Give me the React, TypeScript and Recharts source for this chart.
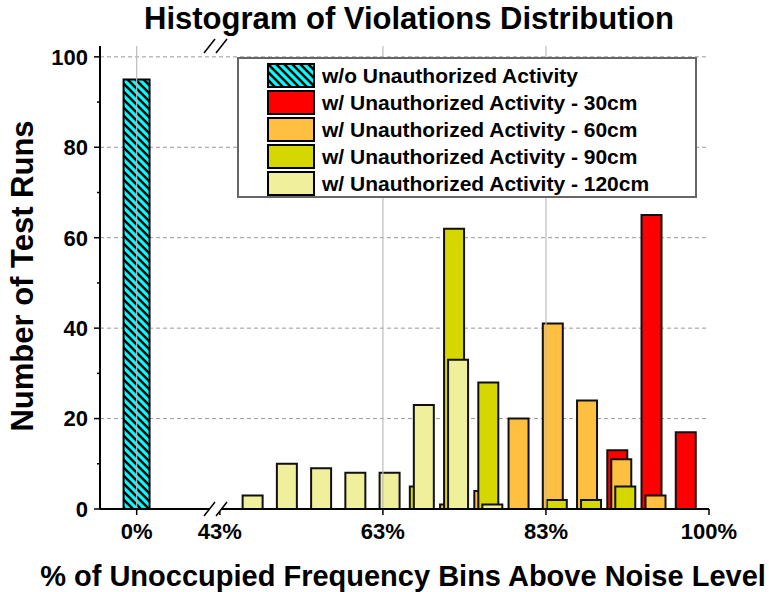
import React from 'react';
import { ComposedChart, Bar, XAxis, YAxis, CartesianGrid, ReferenceLine, Legend } from 'recharts';

// bin centres (% of unoccupied bins above noise), one group of bars per bin
const bins = [46.3, 50.5, 54.7, 58.9, 63.1, 67.3, 71.5, 75.7, 79.9, 84.1, 88.3, 92.5, 96.7, 100.9];

// test runs per bin
const noActivity = 95; // all runs land in the 0% bin
const cm30 = [null, null, null, null, null, null, null, null, null, null, null, 13, 65, 17];
const cm60 = [null, null, null, null, null, null, 1, 4, 20, 41, 24, 11, 3, null];
const cm90 = [null, null, null, null, null, 5, 62, 28, null, 2, 2, 5, null, null];
const cm120 = [3, 10, 9, 8, 8, 23, 33, 1, null, null, null, null, null, null];

const xTickValues = [0, 43, 63, 83, 100];
const yTickValues = [0, 10, 20, 30, 40, 50, 60, 70, 80, 90, 100];

// the x axis is broken between 0% and 43%; 0% is drawn just left of the break
// and the right frame carries the 100% label
const ZERO_AT = 32.8;
const AXIS_START = 28.3;
const AXIS_END = 103;
const toAxis = (p: number) => (p === 0 ? ZERO_AT : p === 100 ? AXIS_END : p);

const Y_MAX = 102.4;
const FONT = '"Liberation Sans", Arial, Helvetica, sans-serif';

const series = [
  { key: 'none', name: 'w/o Unauthorized Activity', fill: 'url(#hatch)' },
  { key: 'cm30', name: 'w/ Unauthorized Activity - 30cm', fill: '#ff0000' },
  { key: 'cm60', name: 'w/ Unauthorized Activity - 60cm', fill: '#ffbf40' },
  { key: 'cm90', name: 'w/ Unauthorized Activity - 90cm', fill: '#d6d600' },
  { key: 'cm120', name: 'w/ Unauthorized Activity - 120cm', fill: '#efef9c' },
];

const data = [
  { x: toAxis(0), none: noActivity },
  ...bins.map((b, i) => ({ x: toAxis(b), cm30: cm30[i], cm60: cm60[i], cm90: cm90[i], cm120: cm120[i] })),
];

const labelStyle = { fontFamily: FONT, fontWeight: 700, fill: '#000' };

const YTick = (props: any) => {
  const { x, y, payload } = props;
  const axisX = x + 12;
  const major = payload.value % 20 === 0;
  return (
    <g>
      <line x1={axisX - (major ? 6 : 3)} x2={axisX} y1={y} y2={y} stroke="#000" strokeWidth={1.5} />
      {major && (
        <text x={x} y={y} dy="0.36em" textAnchor="end" fontSize={22} style={labelStyle}>
          {payload.value}
        </text>
      )}
    </g>
  );
};

const renderLegend = () => (
  <div
    style={{
      background: '#fff',
      border: '2px solid #666',
      boxSizing: 'border-box',
      width: 460,
      height: 141,
      padding: '3px 0 0 28px',
    }}
  >
    {series.map((s) => (
      <div key={s.key} style={{ display: 'flex', alignItems: 'center', height: 27 }}>
        <svg width={48} height={25}>
          <rect x={1} y={1} width={46} height={23} fill={s.fill} stroke="#000" strokeWidth={2} />
        </svg>
        <span style={{ marginLeft: 7, fontFamily: FONT, fontWeight: 700, fontSize: 21, color: '#000', whiteSpace: 'nowrap' }}>
          {s.name}
        </span>
      </div>
    ))}
  </div>
);

// "//" marks where the frame is broken
const AxisBreak = ({ y }: { y: number }) => (
  <g>
    <rect x={210} y={y - 2.5} width={11} height={5} fill="#fff" />
    <line x1={204} y1={y + 7} x2={215} y2={y - 7} stroke="#000" strokeWidth={1.5} />
    <line x1={216} y1={y + 7} x2={227} y2={y - 7} stroke="#000" strokeWidth={1.5} />
  </g>
);

const App = () => {
  return (
    <div style={{ position: 'absolute', left: 0, top: 0, width: 769, height: 592, background: '#fff' }}>
      <svg width={0} height={0} style={{ position: 'absolute' }}>
        <defs>
          <pattern id="hatch" patternUnits="userSpaceOnUse" width={8} height={8}>
            <rect width={8} height={8} fill="#00ffff" />
            <path d="M0,0 L8,8 M-2,6 L2,10 M6,-2 L10,2" stroke="#000" strokeWidth={2.6} />
          </pattern>
        </defs>
      </svg>

      <ComposedChart
        width={769}
        height={592}
        data={data}
        margin={{ top: 46, right: 60, bottom: 43, left: 30 }}
        barGap={-16}
      >
        <CartesianGrid vertical={false} horizontalValues={[20, 40, 60, 80, 100]} stroke="#999" strokeDasharray="4 3" />
        {[0, 63, 83].map((v) => (
          <ReferenceLine key={v} x={toAxis(v)} stroke="#bdbdbd" strokeWidth={1.2} />
        ))}

        <XAxis
          dataKey="x"
          type="number"
          domain={[AXIS_START, AXIS_END]}
          allowDataOverflow
          ticks={xTickValues.map(toAxis)}
          tickFormatter={(v: number) => `${xTickValues[xTickValues.map(toAxis).indexOf(v)]}%`}
          height={40}
          tickSize={6}
          tickMargin={8}
          tick={{ fontSize: 22, ...labelStyle }}
          axisLine={{ stroke: '#000', strokeWidth: 2 }}
          tickLine={{ stroke: '#000', strokeWidth: 1.5 }}
        />
        <XAxis
          xAxisId="top"
          orientation="top"
          dataKey="x"
          type="number"
          domain={[AXIS_START, AXIS_END]}
          allowDataOverflow
          height={0}
          tick={false}
          tickLine={false}
          axisLine={{ stroke: '#000', strokeWidth: 2 }}
        />
        <XAxis xAxisId="zero" dataKey="x" type="number" domain={[AXIS_START, AXIS_END]} allowDataOverflow hide />

        <YAxis
          type="number"
          domain={[0, Y_MAX]}
          allowDataOverflow
          ticks={yTickValues}
          width={70}
          tickSize={6}
          tickMargin={6}
          tickLine={false}
          tick={<YTick />}
          axisLine={{ stroke: '#000', strokeWidth: 2 }}
        />
        <YAxis
          yAxisId="right"
          orientation="right"
          type="number"
          domain={[0, Y_MAX]}
          allowDataOverflow
          ticks={yTickValues}
          width={0}
          mirror
          tickSize={4}
          tick={false}
          tickLine={{ stroke: '#000', strokeWidth: 1.5 }}
          axisLine={{ stroke: '#000', strokeWidth: 2 }}
        />

        <Bar xAxisId="zero" dataKey="none" name={series[0].name} fill={series[0].fill} stroke="#000" strokeWidth={2} barSize={26} isAnimationActive={false} />
        {series.slice(1).map((s) => (
          <Bar key={s.key} dataKey={s.key} name={s.name} fill={s.fill} stroke="#111" strokeWidth={2} barSize={20} isAnimationActive={false} />
        ))}

        <Legend
          layout="horizontal"
          verticalAlign="middle"
          align="center"
          content={renderLegend}
          wrapperStyle={{ left: 237, top: 57, width: 460, height: 141 }}
        />
      </ComposedChart>

      <svg width={769} height={592} style={{ position: 'absolute', left: 0, top: 0, pointerEvents: 'none' }}>
        <AxisBreak y={46} />
        <AxisBreak y={509} />
        <text x={409} y={29} textAnchor="middle" fontSize={31} style={labelStyle}>
          Histogram of Violations Distribution
        </text>
        <text x={403} y={586} textAnchor="middle" fontSize={29} style={labelStyle}>
          % of Unoccupied Frequency Bins Above Noise Level
        </text>
        <text x={33} y={276} textAnchor="middle" fontSize={31} transform="rotate(-90 33 276)" style={labelStyle}>
          Number of Test Runs
        </text>
      </svg>
    </div>
  );
};

export default App;
